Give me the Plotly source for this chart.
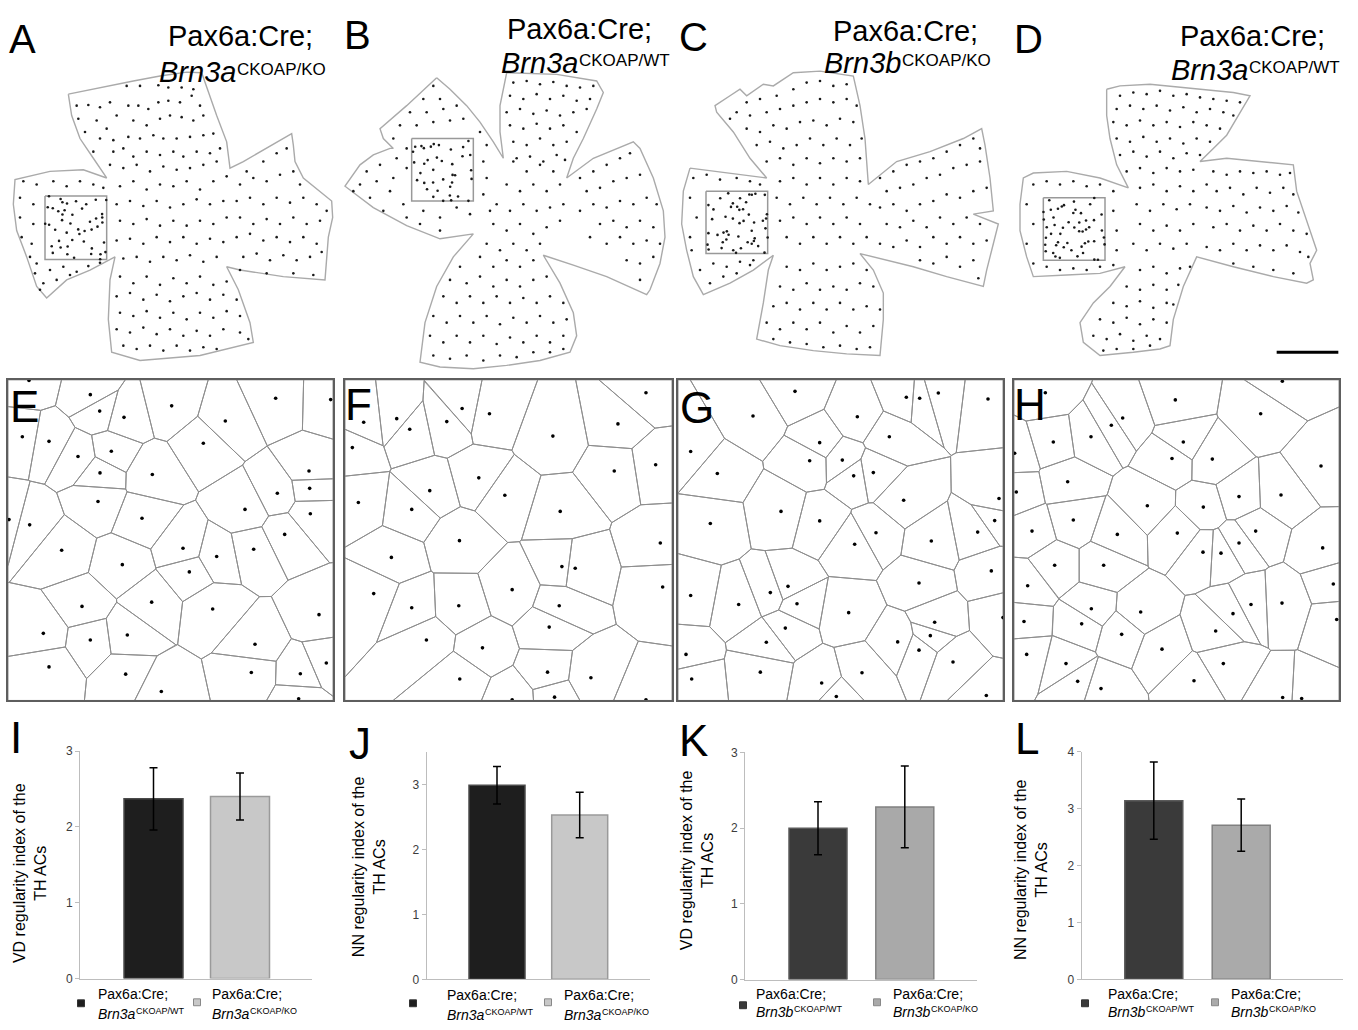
import numpy as np
import plotly.graph_objects as go

W, H = 1358, 1030
FONT = "Liberation Sans, Arial, sans-serif"

# ---------------- DATA ----------------
# Bar charts I-L: regularity index (mean) and error bar (SD)
I_vd = [2.37, 2.40]
I_err = [0.41, 0.31]
J_nn = [2.99, 2.53]
J_err = [0.29, 0.35]
K_vd = [2.00, 2.28]
K_err = [0.35, 0.54]
L_nn = [3.14, 2.71]
L_err = [0.68, 0.46]
I_ticks = [0, 1, 2, 3]
J_ticks = [0, 1, 2, 3]
K_ticks = [0, 1, 2, 3]
L_ticks = [0, 1, 2, 3, 4]
legend_genes_IJ = ["Brn3a", "Brn3a"]
legend_genes_KL = ["Brn3b", "Brn3b"]
legend_alleles = ["CKOAP/WT", "CKOAP/KO"]
top_genes = ["Brn3a", "Brn3a", "Brn3b", "Brn3a"]
top_alleles = ["CKOAP/KO", "CKOAP/WT", "CKOAP/KO", "CKOAP/WT"]

# Cell positions in sampled fields E-H (read in 3x crop units)
E_zx = [88,272,300,373,516,828,993,677,68,148,235,335,611,301,458,928,930,833,295,736,
        932,28,90,427,855,186,550,762,651,368,569,247,456,639,958,131,383,272,766,148,
        378,755,902,980,485,897]
E_zy = [12,55,105,124,89,66,70,135,183,197,243,227,203,293,298,287,340,355,380,404,
        417,435,451,431,480,528,522,525,547,572,594,699,686,707,724,781,786,801,814,883,
        905,900,904,871,958,980]
F_zx = [71,170,209,366,448,320,917,833,638,37,946,822,416,269,494,55,215,660,358,960,
        154,665,705,967,101,516,215,356,657,627,259,427,359,622,752,516,643,917]
F_zy = [139,128,160,97,113,137,49,144,181,216,268,287,308,347,361,383,404,410,499,506,
        550,578,583,640,660,648,703,697,697,762,801,825,920,899,916,983,975,983]
G_zx = [361,235,548,695,735,791,940,644,48,435,405,503,128,537,596,687,973,319,107,435,
        960,909,604,770,540,950,733,340,287,48,192,367,522,780,332,767,985,275,669,733,
        34,835,257,562,51,441,485,935]
G_zy = [45,120,122,63,66,50,68,183,228,201,256,254,295,302,292,376,371,410,447,439,
        438,473,475,500,510,591,628,638,657,666,693,691,718,747,765,788,733,808,807,832,
        845,868,899,901,920,932,973,970]
H_zx = [122,512,833,768,354,320,259,146,536,30,502,623,949,189,35,829,703,428,596,206,
        82,753,338,518,703,954,595,649,150,297,69,986,832,739,685,260,408,231,58,996,
        633,351,472,66,656,184,219,289,568,834,891]
H_zy = [49,71,14,113,126,148,183,199,199,233,249,251,272,320,351,360,365,393,397,436,
        470,470,480,476,506,521,534,537,574,574,636,631,689,693,721,706,716,752,745,739,
        774,784,829,845,873,873,927,949,925,976,979]
# field frame in the same crop units: left, top, right, bottom
E_frame = (25, 10, 1000, 985)
F_frame = (15, 10, 995, 985)
G_frame = (10, 10, 985, 985)
H_frame = (28, 10, 1003, 985)

# Retina flat-mount outlines A-D (3x crop units)
A_ox = [205,300,400,480,560,605,625,650,680,690,730,800,875,880,885,910,960,995,998,985,975,850,720,680,715,750,760,600,420,335,325,330,345,270,200,140,110,80,50,40,45,150,250,320,280,240,215,205]
A_oy = [265,245,225,210,198,200,260,330,410,490,470,430,385,420,470,520,560,590,640,700,830,820,800,790,860,960,1020,1060,1075,1050,950,830,760,800,830,885,850,760,680,600,525,500,495,520,460,400,330,265]
B_ox = [290,330,380,420,460,490,480,480,500,650,770,790,770,730,700,680,760,860,880,900,940,970,975,960,930,920,800,700,610,660,700,710,690,600,500,400,300,240,255,290,340,400,300,200,100,15,60,100,150,160,130,120,200,290]
B_oy = [215,250,300,350,410,460,380,300,200,205,225,260,310,400,460,520,460,420,410,430,520,620,700,780,860,875,820,785,755,840,930,1000,1050,1075,1090,1100,1095,1080,960,850,760,690,705,665,610,545,480,450,430,430,400,370,300,215]
C_ox = [30,150,260,210,160,110,105,150,180,200,250,280,340,420,520,540,555,565,650,750,850,905,915,930,940,880,955,940,920,910,800,700,540,580,610,610,600,500,400,300,230,250,265,280,220,150,70,40,20,5,10,30]
C_oy = [490,505,520,460,380,320,300,270,250,270,235,240,200,195,210,300,400,540,470,440,400,370,420,520,620,630,660,720,800,850,820,790,750,800,870,950,1060,1055,1045,1030,1010,900,800,755,800,840,875,820,740,660,560,490]
D_ox = [320,360,450,600,700,750,720,680,640,600,680,780,880,890,920,950,930,940,920,820,700,590,550,520,510,480,400,300,250,240,280,330,375,300,200,100,80,60,60,70,100,200,300,385,350,330,320,320]
D_oy = [250,240,235,250,260,270,320,390,430,470,460,470,480,560,650,740,780,830,840,820,790,760,850,950,1030,1040,1050,1060,1020,960,900,850,790,810,815,820,760,680,600,520,505,500,520,550,480,400,330,250]
# sampled-field boxes (x0, y0, x1, y1) in 3x crop units
A_box = (135, 575, 320, 768)
B_box = (215, 400, 400, 590)
C_box = (78, 560, 263, 750)
D_box = (130, 580, 315, 770)
scale_bar_x = [830, 1015]
scale_bar_y = [1050, 1050]

# Cells outside the sampled boxes (estimated from the flat mounts, 3x crop units)
A_cells = [(380,240),(420,240),(475,238),(505,245),(545,245),(580,250),
    (230,300),(265,298),(300,305),(330,290),(350,330),(385,300),(415,300),(445,310),(475,290),(505,285),(540,290),(575,270),(600,300),
    (235,340),(290,345),(320,370),(400,345),(440,360),(480,340),(510,330),(545,335),(580,345),(610,330),
    (255,380),(300,400),(340,405),(385,395),(420,400),(460,390),(490,400),(530,400),(570,395),(610,390),(640,385),
    (280,440),(340,440),(370,430),(400,455),(440,440),(480,450),(520,440),(550,455),(590,440),(630,445),(660,430),
    (330,480),(370,490),(410,480),(450,500),(490,485),(530,495),(570,490),(610,480),(650,470),
    (360,545),(400,530),(440,555),(480,540),(520,545),(560,530),(600,555),(640,530),(680,515),
    (350,600),(390,590),(430,605),(470,590),(510,610),(550,600),(590,585),(630,600),(670,590),
    (360,650),(400,660),(440,645),(480,665),(520,650),(560,665),(600,650),(640,660),(680,640),
    (350,710),(390,705),(430,720),(470,700),(510,715),(550,700),(590,720),(630,705),(670,715),
    (370,765),(410,760),(450,775),(490,760),(530,770),(570,755),(610,775),(650,760),
    (740,500),(790,470),(830,445),(860,430),(720,540),(760,520),(800,530),(840,510),(880,500),(900,540),
    (710,590),(750,580),(790,600),(830,580),(870,595),(910,580),(950,600),(980,620),
    (720,640),(760,660),(800,645),(840,660),(880,640),(920,660),(960,650),
    (710,700),(750,690),(790,710),(830,700),(870,715),(910,700),(950,720),
    (730,760),(770,750),(810,770),(850,755),(890,770),(930,760),(965,745),
    (720,800),(800,810),(880,810),(940,815),
    (360,820),(400,840),(440,820),(480,845),(520,825),(560,840),(600,820),(640,845),(680,835),
    (350,880),(390,870),(430,890),(470,875),(510,895),(550,880),(590,870),(630,890),(670,875),(710,890),
    (360,930),(400,940),(440,925),(480,945),(520,930),(560,950),(600,930),(640,945),(680,925),(720,940),
    (350,980),(390,990),(430,975),(470,995),(510,980),(550,1000),(590,985),(630,1000),(670,980),(720,990),(745,1010),
    (370,1030),(410,1040),(450,1030),(490,1045),(530,1030),(570,1045),(610,1035),(650,1040),
    (70,530),(110,540),(160,530),(200,545),(240,530),(280,540),(310,550),
    (60,580),(100,600),(60,640),(100,660),(65,700),(95,720),(90,760),(110,780),
    (150,800),(190,790),(230,805),(265,788),(300,778),(130,840),(170,830),(210,815),(105,810),(120,860)]
B_cells = [(280,240),(250,280),(300,280),(210,320),(260,320),(310,310),(350,300),(180,360),(230,360),(280,350),(330,345),(370,340),
    (160,400),(420,380),(440,420),(80,500),(120,480),(170,460),(200,430),(60,540),(110,530),(160,520),(200,490),
    (40,560),(90,580),(150,560),(190,600),(130,620),(200,640),(250,620),(300,640),(350,610),(390,630),(300,680),(240,660),
    (430,470),(440,520),(430,570),(450,620),
    (520,470),(560,500),(600,480),(640,500),(500,540),(540,560),(580,540),(620,560),(660,540),
    (470,600),(510,620),(550,600),(590,620),(630,610),(670,600),(460,660),(500,680),(540,660),(580,690),(620,670),(660,650),
    (440,720),(480,740),(520,720),(560,740),(600,720),
    (520,230),(560,225),(600,235),(640,228),(680,240),(720,245),(760,240),
    (510,270),(550,280),(590,265),(630,280),(670,270),(710,285),(750,280),
    (500,320),(540,310),(580,325),(620,315),(660,330),(700,320),(740,310),
    (510,360),(550,370),(590,355),(630,370),(670,360),(710,380),
    (520,410),(560,420),(600,400),(640,420),(680,410),(530,460),(570,455),(610,470),(650,450),(675,465),
    (720,520),(760,500),(800,480),(840,460),(870,445),(740,560),(780,550),(820,530),(860,520),(900,510),
    (720,620),(760,600),(800,610),(840,590),(880,600),(920,580),(950,600),
    (780,660),(820,650),(860,670),(900,650),(940,670),(750,700),(800,720),(840,700),(880,720),(920,710),(960,720),
    (860,770),(900,780),(940,760),(900,830),
    (420,760),(460,790),(500,770),(540,790),(580,770),
    (360,790),(330,830),(380,840),(420,820),(460,850),(500,830),(540,850),(580,830),(620,820),
    (310,880),(350,900),(390,880),(430,900),(470,880),(510,900),(550,885),(590,900),(630,880),(670,900),
    (280,940),(320,960),(360,940),(400,960),(440,940),(480,965),(520,945),(560,960),(600,940),(640,960),(680,950),
    (270,1000),(310,1020),(350,1000),(390,1020),(430,1000),(470,1025),(510,1005),(550,1020),(590,1000),(630,1020),(670,1000),
    (280,1060),(330,1070),(380,1060),(430,1075),(480,1060),(530,1065),(580,1050),(630,1050),(670,1040)]
C_cells = [(200,290),(240,280),(290,270),(340,250),(380,230),(420,225),(460,240),(500,235),
    (170,320),(210,330),(260,320),(300,310),(340,300),(380,290),(420,280),(460,290),(500,280),(530,300),
    (150,340),(200,370),(240,380),(280,360),(320,370),(360,350),(400,345),(440,360),(480,340),(520,350),
    (230,420),(270,410),(310,430),(350,420),(390,400),(430,420),(470,400),(510,420),(545,400),
    (260,470),(300,460),(340,480),(380,460),(420,475),(460,460),(500,470),(540,460),
    (300,530),(340,520),(380,540),(420,520),(460,540),(500,520),(540,530),
    (290,580),(330,600),(370,580),(410,600),(450,580),(490,600),(530,580),(570,600),
    (300,650),(340,640),(380,660),(420,640),(460,660),(500,640),(540,660),
    (320,700),(360,720),(400,700),(440,720),(480,700),(520,720),(560,700),
    (600,520),(640,500),(680,480),(720,470),(760,460),(800,440),(840,420),(880,400),(900,430),
    (620,560),(660,550),(700,540),(740,520),(780,510),(820,490),(860,480),(900,470),
    (600,610),(640,600),(680,620),(720,600),(760,590),(800,570),(840,580),(880,560),(920,550),
    (620,660),(660,670),(700,650),(740,670),(780,640),(820,660),(860,640),(900,660),
    (600,720),(640,730),(680,710),(720,730),(760,700),(800,720),(840,700),(880,720),(920,710),
    (720,770),(760,780),(800,760),(840,790),(880,770),(895,825),
    (320,790),(360,800),(400,780),(440,800),(480,790),(520,780),(560,800),
    (300,850),(340,860),(380,840),(420,860),(460,850),(500,860),(540,840),(580,850),
    (280,910),(320,900),(360,920),(400,900),(440,920),(480,900),(520,920),(560,910),(600,920),
    (260,960),(300,980),(340,960),(380,980),(420,960),(460,990),(500,970),(540,990),(580,970),
    (280,1010),(330,1020),(380,1025),(430,1035),(480,1030),(530,1040),(570,1035),
    (40,520),(80,510),(120,525),(170,520),(210,530),(240,540),
    (30,580),(50,640),(30,700),(35,740),(60,800),(100,780),(140,790),(180,775),(220,770),(90,840),(130,820),(170,810),(210,785)]
D_cells = [(360,270),(400,260),(440,265),(480,255),(520,270),(560,265),(600,275),(640,280),(680,285),(720,290),
    (350,310),(390,300),(430,310),(470,300),(510,315),(550,305),(590,320),(630,310),(670,320),(700,330),
    (340,350),(380,360),(420,345),(460,360),(500,350),(540,365),(580,350),(620,360),(660,370),
    (350,400),(390,410),(430,395),(470,410),(510,400),(550,415),(590,400),(630,410),
    (360,450),(400,440),(440,455),(480,440),(520,460),(560,445),(600,450),
    (380,500),(420,490),(460,505),(500,490),(540,500),(580,495),
    (420,550),(460,540),(500,560),(540,545),(580,560),(620,540),
    (410,600),(450,620),(490,600),(530,615),(570,600),
    (420,660),(460,680),(500,665),(540,680),(580,660),
    (400,720),(440,740),(480,720),(520,735),(560,720),
    (640,500),(680,510),(720,500),(760,505),(800,500),(840,510),(870,505),
    (650,560),(690,550),(730,570),(770,550),(810,565),(850,550),(880,570),
    (620,610),(660,620),(700,605),(740,625),(780,610),(820,620),(860,605),(895,625),
    (640,670),(680,660),(720,680),(760,665),(800,680),(840,660),(880,680),(920,690),
    (620,730),(660,740),(700,720),(740,740),(780,725),(820,740),(860,725),(900,745),(925,760),
    (700,780),(760,790),(820,800),(880,810),
    (420,800),(460,790),(500,810),(540,795),(570,790),
    (380,850),(420,860),(460,845),(500,860),(535,845),
    (340,900),(380,910),(420,895),(460,915),(500,900),(520,905),
    (300,950),(340,960),(380,945),(420,965),(460,950),(500,960),
    (280,1000),(320,1010),(360,995),(400,1015),(440,1000),(480,1010),
    (310,1045),(350,1040),(400,1040),(450,1030),
    (100,540),(140,530),(180,540),(220,530),(260,545),(300,540),(340,560),
    (80,600),(100,660),(80,720),(100,780),(140,790),(180,800),(220,795),(260,800),(300,790),(340,785),
    (340,620),(350,680),(350,740)]

# ---------------- FIGURE ----------------
fig = go.Figure()
layout = dict(width=W, height=H, margin=dict(l=0, r=0, t=0, b=0),
              paper_bgcolor="white", plot_bgcolor="rgba(0,0,0,0)", showlegend=False)
annotations, shapes = [], []


def set_axes(n, x0, x1, y0, y1, xr, yr, xopt=None, yopt=None):
    xa = "xaxis" if n == 1 else f"xaxis{n}"
    ya = "yaxis" if n == 1 else f"yaxis{n}"
    xid = "x" if n == 1 else f"x{n}"
    yid = "y" if n == 1 else f"y{n}"
    base = dict(showgrid=False, zeroline=False, showticklabels=False, ticks="",
                showline=False, fixedrange=True)
    xd = dict(base, domain=[x0 / W, x1 / W], range=xr, anchor=yid)
    yd = dict(base, domain=[1 - y1 / H, 1 - y0 / H], range=yr, anchor=xid)
    if xopt:
        xd.update(xopt)
    if yopt:
        yd.update(yopt)
    layout[xa] = xd
    layout[ya] = yd
    return xid, yid


def txt(s, x, baseline, size, xanchor="center", color="black"):
    annotations.append(dict(text=s, x=x / W, y=1 - (baseline + 0.212 * size) / H,
                            xref="paper", yref="paper", xanchor=xanchor, yanchor="bottom",
                            showarrow=False, borderpad=0,
                            font=dict(size=size, family=FONT, color=color)))


def gene_with_sup(gene, allele, left, baseline, size, sup_size, rise):
    txt("<i>" + gene + "</i>", left, baseline, size, xanchor="left")
    txt(allele, left + size * 2.668 + 1, baseline - rise, sup_size, xanchor="left")


def norm(zx, zy, fr):
    u = (np.array(zx, float) - fr[0]) / (fr[2] - fr[0])
    v = (np.array(zy, float) - fr[1]) / (fr[3] - fr[1])
    return u, v


def clip(poly, a, b, c):
    out = []
    n = len(poly)
    for k in range(n):
        P = poly[k]
        Q = poly[(k + 1) % n]
        fp = a * P[0] + b * P[1] - c
        fq = a * Q[0] + b * Q[1] - c
        if fp <= 0:
            out.append(P)
        if fp * fq < 0:
            t = fp / (fp - fq)
            out.append((P[0] + t * (Q[0] - P[0]), P[1] + t * (Q[1] - P[1])))
    return out


def voronoi_lines(u, v):
    xs, ys = [], []
    pts = list(zip(u, v))
    for i, pi in enumerate(pts):
        poly = [(0.0, 0.0), (1.0, 0.0), (1.0, 1.0), (0.0, 1.0)]
        for j, pj in enumerate(pts):
            if i == j:
                continue
            a = pj[0] - pi[0]
            b = pj[1] - pi[1]
            c = a * (pi[0] + pj[0]) / 2 + b * (pi[1] + pj[1]) / 2
            poly = clip(poly, a, b, c)
            if not poly:
                break
        if poly:
            for p in poly + [poly[0]]:
                xs.append(p[0])
                ys.append(p[1])
            xs.append(None)
            ys.append(None)
    return xs, ys


fields = [(E_zx, E_zy, E_frame), (F_zx, F_zy, F_frame), (G_zx, G_zy, G_frame), (H_zx, H_zy, H_frame)]

# ---- Top row: flat mounts ----
tops = [
    (1, (0, 340, 0, 370), A_ox, A_oy, A_box, A_cells),
    (2, (340, 680, 0, 370), B_ox, B_oy, B_box, B_cells),
    (3, (680, 1020, 0, 370), C_ox, C_oy, C_box, C_cells),
    (4, (1000, 1358, 0, 370), D_ox, D_oy, D_box, D_cells),
]
for k, (n, (x0, x1, y0, y1), ox, oy, box, cells) in enumerate(tops):
    xid, yid = set_axes(n, x0, x1, y0, y1, [0, (x1 - x0) * 3], [(y1 - y0) * 3, 0])
    fig.add_trace(go.Scatter(x=ox, y=oy, mode="lines", line=dict(color="#aaaaaa", width=1.4),
                             xaxis=xid, yaxis=yid, hoverinfo="skip"))
    bx0, by0, bx1, by1 = box
    fig.add_trace(go.Scatter(x=[bx0, bx1, bx1, bx0, bx0], y=[by0, by0, by1, by1, by0], mode="lines",
                             line=dict(color="#999999", width=1.5), xaxis=xid, yaxis=yid, hoverinfo="skip"))
    u, v = norm(*fields[k])
    cx = [p[0] for p in cells]
    cy = [p[1] for p in cells]
    fig.add_trace(go.Scatter(x=list(bx0 + u * (bx1 - bx0)) + cx, y=list(by0 + v * (by1 - by0)) + cy,
                             mode="markers", marker=dict(size=2.6, color="#1a1a1a"),
                             xaxis=xid, yaxis=yid, hoverinfo="skip"))
    if n == 4:
        fig.add_trace(go.Scatter(x=scale_bar_x, y=scale_bar_y, mode="lines",
                                 line=dict(color="black", width=3), xaxis=xid, yaxis=yid, hoverinfo="skip"))

# ---- Middle row: Voronoi tessellations ----
vor = [(5, (8, 333, 378, 703)), (6, (345, 672, 378, 703)), (7, (678, 1003, 378, 703)), (8, (1014, 1339, 378, 703))]
frame_opt = dict(showline=True, mirror=True, linecolor="#5e5e5e", linewidth=1.5)
for k, (n, (x0, x1, y0, y1)) in enumerate(vor):
    xid, yid = set_axes(n, x0, x1, y0, y1, [0, 1], [1, 0], frame_opt, frame_opt)
    u, v = norm(*fields[k])
    lx, ly = voronoi_lines(u, v)
    fig.add_trace(go.Scatter(x=lx, y=ly, mode="lines", line=dict(color="#8e8e8e", width=1),
                             xaxis=xid, yaxis=yid, hoverinfo="skip"))
    fig.add_trace(go.Scatter(x=u, y=v, mode="markers", marker=dict(size=3.6, color="black"),
                             xaxis=xid, yaxis=yid, hoverinfo="skip", cliponaxis=False))

# ---- Bottom row: bar charts ----
bars = [
    dict(n=9, vals=I_vd, err=I_err, ticks=I_ticks, ymax=3, y0=985, ytop=754.3, left=80, right=312,
         c=(153.5, 240), bw=59, colors=("#1e1e1e", "#c8c8c8"), edges=("#4a4a4a", "#9a9a9a"),
         title="VD regularity index of the<br>TH ACs", tpos=(30, 878), genes=legend_genes_IJ,
         sq=((81, 1010), (197, 1009)), tl=(97, 211), base=(1007, 1027)),
    dict(n=10, vals=J_nn, err=J_err, ticks=J_ticks, ymax=3.5, y0=985.7, ytop=985.7 - 3.5 * 65.8,
         left=426.7, right=650, c=(497, 579.7), bw=56, colors=("#1e1e1e", "#c8c8c8"),
         edges=("#4a4a4a", "#9a9a9a"), title="NN regularity index of the<br>TH ACs", tpos=(369, 871),
         genes=legend_genes_IJ, sq=((413, 1010), (548, 1009)), tl=(446, 563), base=(1008, 1028)),
    dict(n=11, vals=K_vd, err=K_err, ticks=K_ticks, ymax=3, y0=986, ytop=755.7, left=745, right=976.7,
         c=(818, 904.8), bw=58, colors=("#3a3a3a", "#a9a9a9"), edges=("#5a5a5a", "#808080"),
         title="VD regularity index of the<br>TH ACs", tpos=(697, 865), genes=legend_genes_KL,
         sq=((743, 1012), (877, 1009)), tl=(755, 892), base=(1007, 1025)),
    dict(n=12, vals=L_nn, err=L_err, ticks=L_ticks, ymax=4, y0=985.7, ytop=755, left=1081.7, right=1343,
         c=(1153.8, 1241.2), bw=58, colors=("#3a3a3a", "#aaaaaa"), edges=("#5a5a5a", "#808080"),
         title="NN regularity index of the<br>TH ACs", tpos=(1031, 875), genes=legend_genes_KL,
         sq=((1085, 1010), (1215, 1009)), tl=(1107, 1230), base=(1007, 1025)),
]
for b in bars:
    d = b["c"][1] - b["c"][0]
    xr = [-(b["c"][0] - b["left"]) / d, 1 + (b["right"] - b["c"][1]) / d]
    yopt = dict(showline=True, linecolor="#bdbdbd", linewidth=1, ticks="outside", ticklen=4,
                tickcolor="#bdbdbd", tickvals=b["ticks"], showticklabels=True,
                tickfont=dict(size=12, color="#3c3c3c", family=FONT))
    xopt = dict(showline=True, linecolor="#bdbdbd", linewidth=1)
    xid, yid = set_axes(b["n"], b["left"], b["right"], b["ytop"], b["y0"], xr, [0, b["ymax"]], xopt, yopt)
    fig.add_trace(go.Bar(x=[0, 1], y=b["vals"], width=b["bw"] / d,
                         marker=dict(color=list(b["colors"]), line=dict(color=list(b["edges"]), width=1.5)),
                         error_y=dict(type="data", array=b["err"], color="black", thickness=1.5, width=4),
                         xaxis=xid, yaxis=yid, hoverinfo="skip"))
    annotations.append(dict(text=b["title"], x=b["tpos"][0] / W, y=1 - b["tpos"][1] / H,
                            xref="paper", yref="paper", xanchor="center", yanchor="middle",
                            textangle=-90, showarrow=False,
                            font=dict(size=16, family=FONT, color="black")))
    for i in range(2):
        sx, sy = b["sq"][i]
        shapes.append(dict(type="rect", xref="paper", yref="paper",
                           x0=(sx - 3.5) / W, x1=(sx + 3.5) / W, y0=1 - (sy + 3.5) / H, y1=1 - (sy - 3.5) / H,
                           fillcolor=b["colors"][i], line=dict(color="#333" if i == 0 else "#888", width=1)))
        txt("Pax6a:Cre;", b["tl"][i], b["base"][0], 14, xanchor="left")
        gene_with_sup(b["genes"][i], legend_alleles[i], b["tl"][i], b["base"][1], 14, 9, 5)

# ---- Panel letters and titles ----
letters = [("A", 22, 47), ("B", 357, 43), ("C", 693, 45), ("D", 1028, 47)]
for s, x, bl in letters:
    txt(s, x, bl, 40)
letters2 = [("E", 24, 422), ("F", 358, 420), ("G", 697, 423), ("H", 1030, 420),
            ("I", 16, 757), ("J", 360, 763), ("K", 693, 760), ("L", 1027, 758)]
for s, x, bl in letters2:
    txt(s, x, bl, 44)

# (line-1 centre x, line-1 baseline, line-2 left x, line-2 baseline)
titles = [(240, 40, 158, 77), (579, 33, 500, 68), (905, 35, 823, 68), (1252, 40, 1170, 75)]
for (x1, b1, x2, b2), g, a in zip(titles, top_genes, top_alleles):
    txt("Pax6a:Cre;", x1, b1, 29)
    gene_with_sup(g, a, x2, b2, 29, 17, 7)

layout["annotations"] = annotations
layout["shapes"] = shapes
fig.update_layout(**layout)
fig.write_html("out.html", config={"displayModeBar": False},
               post_script="document.body.style.margin='0px';")
